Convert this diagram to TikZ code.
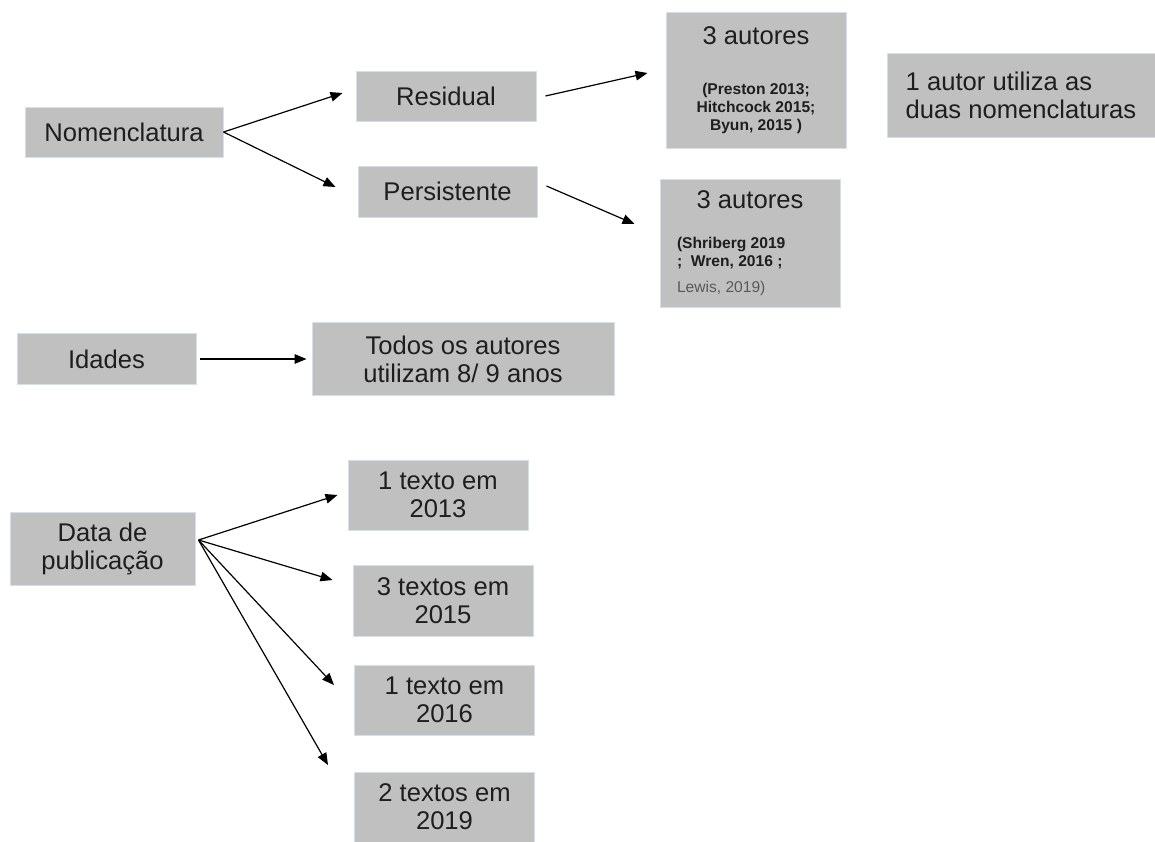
\documentclass[tikz,border=0pt]{standalone}
\usepackage{fontspec}
\setmainfont{Liberation Sans}
\usepackage{xcolor}
\usepackage{tikz}
\usetikzlibrary{arrows.meta,positioning}
\definecolor{boxgray}{HTML}{C0C0C0}
\definecolor{boxline}{HTML}{D6DFEE}
\definecolor{inkdark}{HTML}{1E1E1E}
\definecolor{citegray}{HTML}{595959}
\newcommand{\mainsize}{\fontsize{12.8}{14}\selectfont}
\newcommand{\citesize}{\fontsize{7.8}{9}\selectfont\bfseries}
\tikzset{
  gbox/.style={
    draw=boxline, line width=0.5pt, fill=boxgray, text=inkdark,
    font=\mainsize, align=center, inner sep=0pt,
  },
  arrow/.style={-{Triangle[length=6pt,width=4.8pt]}, line width=0.6pt, color=black},
}

\begin{document}
\begin{tikzpicture}[x=0.5pt,y=-0.5pt]
  \useasboundingbox (0,0) rectangle (1155,841);

  % nomenclatura
  \node[gbox, minimum width=99pt, minimum height=25pt] (nomen) at (124,132) {Nomenclatura};
  \node[gbox, minimum width=90pt, minimum height=25pt] (resid) at (446,96) {Residual};
  \node[gbox, minimum width=89.5pt, minimum height=25.5pt] (persist) at (447.5,191.5) {Persistente};

  \node[gbox, minimum width=90pt, minimum height=68pt, text width=73pt, align=flush center] (aut1) at (756,80)
    {3 autores\par\vspace{16pt}%
     {\citesize (Preston 2013;\\ Hitchcock 2015;\\ Byun, 2015 )\par}};

  \node[gbox, minimum width=90pt, minimum height=64pt, text width=73pt, align=flush left] (aut2) at (750,243)
    {{\centering 3 autores\par}\vspace{11pt}%
     {\citesize (Shriberg 2019\\ ;\ \ Wren, 2016 ;\\[4pt]
      {\mdseries\color{citegray}Lewis, 2019)}\par}};

  \node[gbox, minimum width=134pt, minimum height=42pt, align=left] (ambas) at (1021,95)
    {1 autor utiliza as\\duas nomenclaturas};

  % idades
  \node[gbox, minimum width=89.5pt, minimum height=25.5pt] (idades) at (106.5,359) {Idades};
  \node[gbox, minimum width=151pt, minimum height=36.5pt] (todos) at (463,359)
    {Todos os autores\\utilizam 8/ 9 anos};

  % data de publicacao
  \node[gbox, minimum width=92.5pt, minimum height=36.5pt] (data) at (102.5,548.5)
    {Data de\\publicação};
  \node[gbox, minimum width=90pt, minimum height=35pt] (t2013) at (438,495) {1 texto em\\2013};
  \node[gbox, minimum width=90pt, minimum height=35.5pt] (t2015) at (443,600.5) {3 textos em\\2015};
  \node[gbox, minimum width=90pt, minimum height=35pt] (t2016) at (444.5,700) {1 texto em\\2016};
  \node[gbox, minimum width=90pt, minimum height=35pt] (t2019) at (444.5,807) {2 textos em\\2019};

  \draw[arrow] (nomen.east) -- ([xshift=-6.5pt,yshift=1.5pt]resid.west);
  \draw[arrow] (nomen.east) -- ([xshift=-11pt,yshift=2.25pt]persist.west);
  \draw[arrow] ([xshift=4.5pt]resid.east) -- ([xshift=-9pt,yshift=3.5pt]aut1.west);
  \draw[arrow] ([xshift=4.5pt,yshift=2.75pt]persist.east) -- ([xshift=-12.5pt,yshift=9.5pt]aut2.west);
  \draw[arrow] ([xshift=1.5pt]idades.east) -- ([xshift=-2.5pt]todos.west);
  \draw[arrow] ([xshift=1.5pt,yshift=4.25pt]data.east) -- ([xshift=-5pt]t2013.west);
  \draw[arrow] ([xshift=1.5pt,yshift=4.25pt]data.east) -- ([xshift=-10pt,yshift=10.25pt]t2015.west);
  \draw[arrow] ([xshift=1.5pt,yshift=4.25pt]data.east) -- ([xshift=-10pt,yshift=7.5pt]t2016.west);
  \draw[arrow] ([xshift=1.5pt,yshift=4.25pt]data.east) -- ([xshift=-13pt,yshift=21pt]t2019.west);

\end{tikzpicture}
\end{document}
